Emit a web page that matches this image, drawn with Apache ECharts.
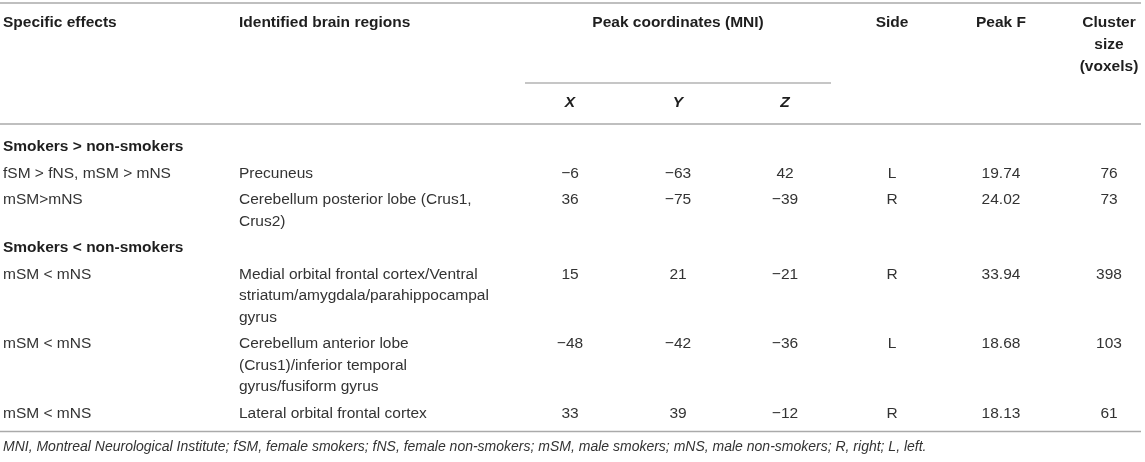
<!DOCTYPE html>
<html>
<head>
<meta charset="utf-8">
<script src="https://cdn.jsdelivr.net/npm/echarts@6/dist/echarts.min.js"></script>
<style>
  html, body { margin: 0; padding: 0; background: #fff; }
  #main { width: 1145px; height: 462px; }
</style>
</head>
<body>
<div id="main"></div>
<script>
// ---- table content ----
var headers = ['Specific effects', 'Identified brain regions', 'Peak coordinates (MNI)', 'Side', 'Peak F', 'Cluster\nsize\n(voxels)'];
var axisNames = ['X', 'Y', 'Z'];
var groups = ['Smokers > non-smokers', 'Smokers < non-smokers'];
var groupOf = [0, 0, 1, 1, 1];
var effects = ['fSM > fNS, mSM > mNS', 'mSM>mNS', 'mSM < mNS', 'mSM < mNS', 'mSM < mNS'];
var regions = [
  'Precuneus',
  'Cerebellum posterior lobe (Crus1,\nCrus2)',
  'Medial orbital frontal cortex/Ventral\nstriatum/amygdala/parahippocampal\ngyrus',
  'Cerebellum anterior lobe\n(Crus1)/inferior temporal\ngyrus/fusiform gyrus',
  'Lateral orbital frontal cortex'
];
var coordX = [-6, 36, 15, -48, 33];
var coordY = [-63, -75, 21, -42, 39];
var coordZ = [42, -39, -21, -36, -12];
var sides = ['L', 'R', 'R', 'L', 'R'];
var peakF = [19.74, 24.02, 33.94, 18.68, 18.13];
var clusterSize = [76, 73, 398, 103, 61];
var footnote = 'MNI, Montreal Neurological Institute; fSM, female smokers; fNS, female non-smokers; mSM, male smokers; mNS, male non-smokers; R, right; L, left.';

// ---- layout ----
var colX = [3, 239, 570, 678, 785, 892, 1001, 1109];
var FAMILY = '"Liberation Sans", Arial, Helvetica, sans-serif';
var SIZE = 15.5, NOTE_SIZE = 14;
var lineH = 21.5;
var rowGap = 5;
var headTop = 23, headLineH = 22, axisRowY = 103, bodyTop = 147;

function num(v) {
  return v < 0 ? '\u2212' + Math.abs(v) : String(v);
}

var cells = [];
var rules = [];

function addCell(x, y, text, align, weight, style, lh, size) {
  String(text).split('\n').forEach(function (line, k) {
    cells.push({
      x: x, y: y + k * (lh || lineH), text: line, align: align,
      weight: weight || 'normal', style: style || 'normal', size: size || SIZE
    });
  });
}

// header
addCell(colX[0], headTop, headers[0], 'left', 'bold');
addCell(colX[1], headTop, headers[1], 'left', 'bold');
addCell(colX[3], headTop, headers[2], 'center', 'bold');
addCell(colX[5], headTop, headers[3], 'center', 'bold');
addCell(colX[6], headTop, headers[4], 'center', 'bold');
addCell(colX[7], headTop, headers[5], 'center', 'bold', 'normal', headLineH);
axisNames.forEach(function (n, i) {
  addCell(colX[2 + i], axisRowY, n, 'center', 'bold', 'italic');
});

// body
var y = bodyTop;
var lastGroup = -1;
effects.forEach(function (eff, i) {
  if (groupOf[i] !== lastGroup) {
    lastGroup = groupOf[i];
    addCell(colX[0], y, groups[lastGroup], 'left', 'bold');
    y += lineH + rowGap;
  }
  addCell(colX[0], y, eff, 'left');
  addCell(colX[1], y, regions[i], 'left');
  addCell(colX[2], y, num(coordX[i]), 'center');
  addCell(colX[3], y, num(coordY[i]), 'center');
  addCell(colX[4], y, num(coordZ[i]), 'center');
  addCell(colX[5], y, sides[i], 'center');
  addCell(colX[6], y, peakF[i].toFixed(2), 'center');
  addCell(colX[7], y, String(clusterSize[i]), 'center');
  y += regions[i].split('\n').length * lineH + rowGap;
});
var bottomY = y - 8.5;
addCell(colX[0], bottomY + 16, footnote, 'left', 'normal', 'italic', 0, NOTE_SIZE);

// rules [x1, x2, y, light]
rules.push([0, 1141, 3, 0]);
rules.push([525, 831, 83, 1]);
rules.push([0, 1141, 124, 0]);
rules.push([0, 1141, bottomY, 0]);

var chart = echarts.init(document.getElementById('main'));
chart.setOption({
  animation: false,
  backgroundColor: '#fff',
  grid: { left: 0, right: 0, top: 0, bottom: 0 },
  xAxis: { type: 'value', min: 0, max: 1145, show: false },
  yAxis: { type: 'value', min: 0, max: 462, inverse: true, show: false },
  series: [{
    type: 'custom',
    clip: false,
    silent: true,
    data: rules.map(function (r) { return [r[0], r[2], r[1], r[3]]; }),
    renderItem: function (params, api) {
      var a = api.coord([api.value(0), api.value(1)]);
      var b = api.coord([api.value(2), api.value(1)]);
      var light = api.value(3) === 1;
      return {
        type: 'line',
        shape: { x1: a[0], y1: a[1], x2: b[0], y2: b[1] },
        style: { stroke: light ? '#c6c6c6' : '#aaaaaa', lineWidth: light ? 2 : 1.5 }
      };
    }
  }, {
    type: 'custom',
    clip: false,
    silent: true,
    data: cells.map(function (c) { return [c.x, c.y]; }),
    renderItem: function (params, api) {
      var c = cells[params.dataIndex];
      var p = api.coord([api.value(0), api.value(1)]);
      return {
        type: 'text',
        x: p[0],
        y: p[1],
        style: {
          text: c.text,
          font: c.style + ' ' + c.weight + ' ' + c.size + 'px ' + FAMILY,
          fill: c.weight === 'bold' ? '#1e1e1e' : '#333333',
          textAlign: c.align,
          textVerticalAlign: 'middle'
        }
      };
    }
  }]
});
</script>
</body>
</html>
